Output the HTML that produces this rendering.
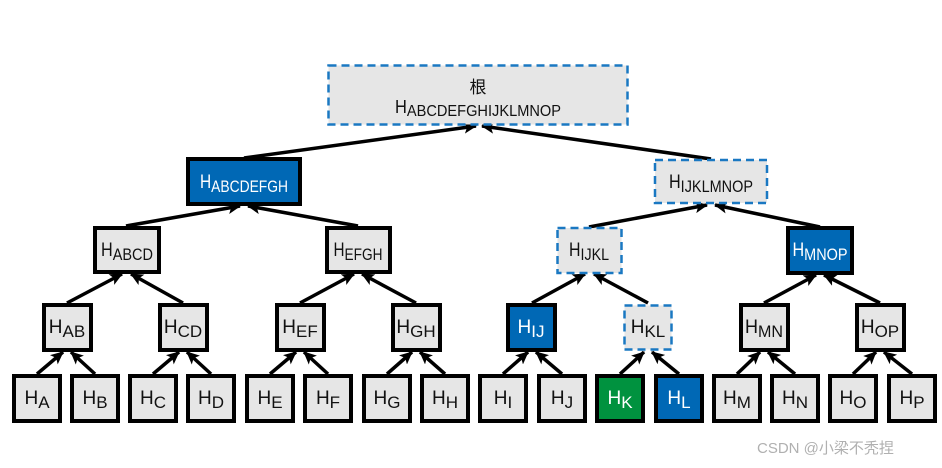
<!DOCTYPE html>
<html><head><meta charset="utf-8"><style>
html,body{margin:0;padding:0;background:#fff;}
svg{display:block;}
text{font-family:"Liberation Sans","Noto Sans CJK SC",sans-serif;}
</style></head><body>
<svg width="942" height="468" viewBox="0 0 942 468" xmlns="http://www.w3.org/2000/svg">
<defs>
<marker id="a" markerUnits="userSpaceOnUse" markerWidth="14" markerHeight="12" refX="12" refY="6" orient="auto">
<path d="M0,0 L13,6 L0,12 L3,6 Z" fill="#000"/>
</marker>
</defs>
<g stroke="#000" stroke-width="3.5" marker-end="url(#a)">
<!-- root -->
<line x1="244" y1="158" x2="476" y2="126"/>
<line x1="711" y1="159" x2="482" y2="126"/>
<!-- level3 to 4 -->
<line x1="126" y1="226" x2="240" y2="206"/>
<line x1="358" y1="226" x2="248" y2="206"/>
<line x1="589" y1="227" x2="707" y2="205"/>
<line x1="820" y1="227" x2="715" y2="205"/>
<!-- level2 to 3 -->
<line x1="67" y1="303" x2="122" y2="274"/>
<line x1="183" y1="303" x2="131" y2="274"/>
<line x1="300" y1="303" x2="354" y2="274"/>
<line x1="416" y1="303" x2="362" y2="274"/>
<line x1="532" y1="303" x2="585" y2="274"/>
<line x1="648" y1="303" x2="594" y2="274"/>
<line x1="764" y1="303" x2="816" y2="275"/>
<line x1="880" y1="303" x2="824" y2="275"/>
<!-- leaves to level2 -->
<line x1="37" y1="374" x2="63" y2="352"/>
<line x1="95" y1="374" x2="71" y2="352"/>
<line x1="153" y1="374" x2="179" y2="352"/>
<line x1="211" y1="374" x2="187" y2="352"/>
<line x1="270" y1="374" x2="296" y2="352"/>
<line x1="328" y1="374" x2="304" y2="352"/>
<line x1="387" y1="374" x2="412" y2="352"/>
<line x1="445" y1="374" x2="420" y2="352"/>
<line x1="503" y1="374" x2="528" y2="352"/>
<line x1="562" y1="374" x2="536" y2="352"/>
<line x1="620" y1="374" x2="644" y2="352"/>
<line x1="679" y1="374" x2="652" y2="352"/>
<line x1="737" y1="374" x2="760" y2="352"/>
<line x1="795" y1="374" x2="768" y2="352"/>
<line x1="853" y1="374" x2="876" y2="352"/>
<line x1="912" y1="374" x2="884" y2="352"/>
</g>

<!-- root -->
<rect x="328.5" y="65.5" width="299" height="59" fill="#e6e6e6" stroke="#1a78c2" stroke-width="2.5" stroke-dasharray="8,5"/>
<text x="478" y="93" font-size="17" text-anchor="middle" fill="#111">根</text>
<text x="478" y="113" font-size="18" text-anchor="middle" fill="#111" textLength="166" lengthAdjust="spacingAndGlyphs">H<tspan font-size="16" dy="3">ABCDEFGHIJKLMNOP</tspan></text>

<!-- level4 -->
<rect x="188" y="159" width="112" height="45" fill="#0068b5" stroke="#000" stroke-width="4"/>
<text x="244" y="188" font-size="19" text-anchor="middle" fill="#fff" textLength="88" lengthAdjust="spacingAndGlyphs">H<tspan font-size="17" dy="4">ABCDEFGH</tspan></text>
<rect x="655" y="160" width="112" height="43" fill="#e6e6e6" stroke="#1a78c2" stroke-width="2.5" stroke-dasharray="8,5"/>
<text x="711" y="188" font-size="19" text-anchor="middle" fill="#111" textLength="84" lengthAdjust="spacingAndGlyphs">H<tspan font-size="17" dy="4">IJKLMNOP</tspan></text>

<!-- level3 -->
<rect x="95" y="228" width="64" height="44" fill="#e6e6e6" stroke="#000" stroke-width="4"/>
<text x="127" y="256" font-size="19" text-anchor="middle" fill="#111" textLength="52" lengthAdjust="spacingAndGlyphs">H<tspan font-size="17" dy="4">ABCD</tspan></text>
<rect x="327" y="228" width="63" height="44" fill="#e6e6e6" stroke="#000" stroke-width="4"/>
<text x="358" y="256" font-size="19" text-anchor="middle" fill="#111" textLength="49" lengthAdjust="spacingAndGlyphs">H<tspan font-size="17" dy="4">EFGH</tspan></text>
<rect x="557.5" y="228" width="64" height="45" fill="#e6e6e6" stroke="#1a78c2" stroke-width="2.5" stroke-dasharray="8,5"/>
<text x="589" y="256" font-size="19" text-anchor="middle" fill="#111" textLength="40" lengthAdjust="spacingAndGlyphs">H<tspan font-size="17" dy="4">IJKL</tspan></text>
<rect x="788" y="228" width="64" height="45" fill="#0068b5" stroke="#000" stroke-width="4"/>
<text x="820" y="256" font-size="19" text-anchor="middle" fill="#fff" textLength="55" lengthAdjust="spacingAndGlyphs">H<tspan font-size="17" dy="4">MNOP</tspan></text>

<!-- level2 -->
<g stroke-width="4" stroke="#000">
<rect x="44" y="305" width="47" height="45" fill="#e6e6e6"/>
<rect x="160" y="305" width="47" height="45" fill="#e6e6e6"/>
<rect x="277" y="305" width="47" height="45" fill="#e6e6e6"/>
<rect x="393" y="305" width="47" height="45" fill="#e6e6e6"/>
<rect x="508" y="305" width="47" height="45" fill="#0068b5"/>
<rect x="741" y="305" width="47" height="45" fill="#e6e6e6"/>
<rect x="857" y="305" width="47" height="45" fill="#e6e6e6"/>
</g>
<rect x="624.5" y="305.5" width="47" height="44" fill="#e6e6e6" stroke="#1a78c2" stroke-width="2.5" stroke-dasharray="8,5"/>
<g font-size="19" text-anchor="middle" fill="#111">
<text x="67" y="333">H<tspan font-size="17" dy="4">AB</tspan></text>
<text x="183" y="333">H<tspan font-size="17" dy="4">CD</tspan></text>
<text x="300" y="333">H<tspan font-size="17" dy="4">EF</tspan></text>
<text x="416" y="333">H<tspan font-size="17" dy="4">GH</tspan></text>
<text x="531" y="333" fill="#fff">H<tspan font-size="17" dy="4">IJ</tspan></text>
<text x="648" y="333">H<tspan font-size="17" dy="4">KL</tspan></text>
<text x="764" y="333" textLength="38" lengthAdjust="spacingAndGlyphs">H<tspan font-size="17" dy="4">MN</tspan></text>
<text x="880" y="333">H<tspan font-size="17" dy="4">OP</tspan></text>
</g>

<!-- leaves -->
<g stroke-width="4" stroke="#000" fill="#e6e6e6">
<rect x="14" y="376" width="46" height="45"/>
<rect x="72" y="376" width="46" height="45"/>
<rect x="130" y="376" width="46" height="45"/>
<rect x="188" y="376" width="46" height="45"/>
<rect x="247" y="376" width="46" height="45"/>
<rect x="305" y="376" width="46" height="45"/>
<rect x="364" y="376" width="46" height="45"/>
<rect x="422" y="376" width="46" height="45"/>
<rect x="480" y="376" width="46" height="45"/>
<rect x="539" y="376" width="46" height="45"/>
<rect x="597" y="376" width="46" height="45" fill="#00923f"/>
<rect x="656" y="376" width="46" height="45" fill="#0068b5"/>
<rect x="714" y="376" width="46" height="45"/>
<rect x="772" y="376" width="46" height="45"/>
<rect x="830" y="376" width="46" height="45"/>
<rect x="889" y="376" width="46" height="45"/>
</g>
<g font-size="19" text-anchor="middle" fill="#111">
<text x="37" y="404">H<tspan font-size="17" dy="4">A</tspan></text>
<text x="95" y="404">H<tspan font-size="17" dy="4">B</tspan></text>
<text x="153" y="404">H<tspan font-size="17" dy="4">C</tspan></text>
<text x="211" y="404">H<tspan font-size="17" dy="4">D</tspan></text>
<text x="270" y="404">H<tspan font-size="17" dy="4">E</tspan></text>
<text x="328" y="404">H<tspan font-size="17" dy="4">F</tspan></text>
<text x="387" y="404">H<tspan font-size="17" dy="4">G</tspan></text>
<text x="445" y="404">H<tspan font-size="17" dy="4">H</tspan></text>
<text x="503" y="404">H<tspan font-size="17" dy="4">I</tspan></text>
<text x="562" y="404">H<tspan font-size="17" dy="4">J</tspan></text>
<text x="620" y="404" fill="#fff">H<tspan font-size="17" dy="4">K</tspan></text>
<text x="679" y="404" fill="#fff">H<tspan font-size="17" dy="4">L</tspan></text>
<text x="737" y="404">H<tspan font-size="17" dy="4">M</tspan></text>
<text x="795" y="404">H<tspan font-size="17" dy="4">N</tspan></text>
<text x="853" y="404">H<tspan font-size="17" dy="4">O</tspan></text>
<text x="912" y="404">H<tspan font-size="17" dy="4">P</tspan></text>
</g>

<text x="757" y="453" font-size="15" fill="#b0b0b0">CSDN @小梁不秃捏</text>
</svg>
</body></html>
